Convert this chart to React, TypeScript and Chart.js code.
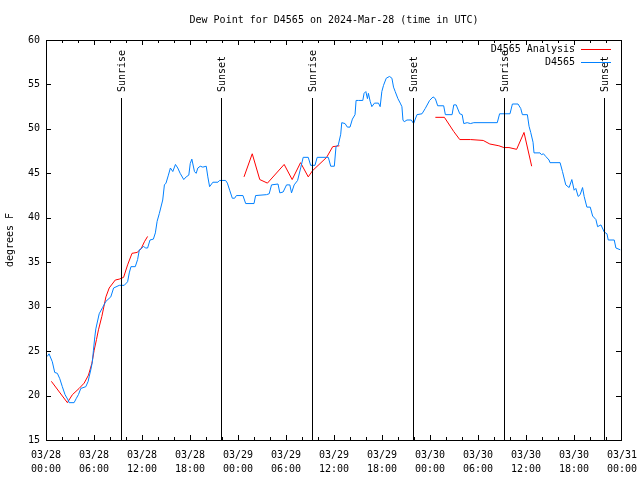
import React, { useEffect, useRef } from "react";
import { Chart, registerables } from "chart.js";

Chart.register(...registerables);

const TITLE = "Dew Point for D4565 on 2024-Mar-28 (time in UTC)";
const Y_TITLE = "degrees F";
const FONT = "'DejaVu Sans Mono', 'Liberation Mono', monospace";

// x in hours since 03/28 00:00 UTC
const xTickHours = [0, 6, 12, 18, 24, 30, 36, 42, 48, 54, 60, 66, 72];
const xTickDates = ["03/28", "03/28", "03/28", "03/28", "03/29", "03/29", "03/29", "03/29", "03/30", "03/30", "03/30", "03/30", "03/31"];
const xTickTimes = ["00:00", "06:00", "12:00", "18:00", "00:00", "06:00", "12:00", "18:00", "00:00", "06:00", "12:00", "18:00", "00:00"];
const xMinorHours = [2, 4, 8, 10, 14, 16, 20, 22, 26, 28, 32, 34, 38, 40, 44, 46, 50, 52, 56, 58, 62, 64, 68, 70];
const yTicks = [15, 20, 25, 30, 35, 40, 45, 50, 55, 60];

const sunLabels = ["Sunrise", "Sunset", "Sunrise", "Sunset", "Sunrise", "Sunset"];
const sunHours = [9.375, 21.875, 33.25, 45.875, 57.25, 69.75];

const seriesLabels = ["D4565 Analysis", "D4565"];

const analysisHours = [
  0.67, 2.67, 3.3, 4.14, 4.77, 5.31, 5.73, 6.02, 6.31, 6.56, 6.98, 7.49, 7.9, 8.66, 9.16, 9.7, 10.2, 10.75, 11.38, 11.88, 12.3, 12.7,
  18.0,
  24.75, 25.78, 26.72, 27.68, 29.77, 30.77, 31.82, 32.78, 33.32, 35.08, 35.84, 36.67,
  42.0,
  48.67, 49.8, 50.97, 51.72, 53.06, 54.65, 55.48, 56.61, 57.24, 57.87, 58.83, 59.75, 60.71,
];
const analysisValues: (number | null)[] = [
  21.6, 19.2, 20.1, 20.8, 21.4, 22.3, 23.6, 25.1, 26.3, 27.4, 28.9, 31.1, 32.1, 33.0, 33.1, 33.3, 34.7, 36.0, 36.1, 36.5, 37.3, 37.9,
  null,
  44.6, 47.2, 44.3, 43.9, 46.0, 44.3, 46.2, 44.6, 45.3, 46.8, 48.0, 48.1,
  null,
  51.3, 51.3, 49.7, 48.8, 48.8, 48.7, 48.3, 48.1, 47.9, 47.9, 47.7, 49.6, 45.8,
];

const obsHours = [
  0.16, 0.38, 0.79, 1.09, 1.42, 1.72, 2.04, 2.38, 2.76, 2.89, 3.51, 3.8, 4.05, 4.35, 4.98, 5.27, 5.39, 5.6, 5.8, 5.93,
  6.1, 6.23, 6.65, 7.07, 7.49, 8.1, 8.45, 9.16, 9.78, 10.2, 10.41, 10.62, 11.16, 11.45, 11.67, 11.88, 12.2, 12.42, 12.7, 13.0,
  13.42, 13.67, 13.89, 14.17, 14.59, 14.8, 15.0, 15.3, 15.55, 15.85, 16.18, 16.47, 16.77, 17.22, 17.52, 17.85, 18.03, 18.23, 18.56, 18.77,
  18.98, 19.28, 19.6, 20.03, 20.23, 20.45, 20.86, 21.49, 21.7, 22.45, 22.67, 22.96, 23.29, 23.58, 23.8, 24.62, 24.96, 26.0, 26.2, 27.56,
  27.9, 28.19, 29.0, 29.23, 29.64, 30.07, 30.48, 30.69, 31.02, 31.45, 31.86, 32.15, 32.78, 33.08, 33.62, 33.9, 35.29, 35.59, 36.04, 36.25,
  36.54, 36.84, 36.97, 37.38, 37.67, 38.0, 38.3, 38.63, 38.76, 39.05, 39.6, 39.76, 39.98, 40.18, 40.3, 40.52, 40.73, 41.06, 41.56, 41.77,
  41.98, 42.19, 42.53, 42.94, 43.24, 43.44, 43.65, 43.99, 44.28, 44.49, 44.62, 44.78, 45.12, 45.66, 45.95, 46.37, 47.0, 47.41, 47.95, 48.38,
  48.67, 48.96, 49.71, 49.92, 50.76, 50.97, 51.27, 51.72, 52.02, 52.22, 52.65, 53.06, 53.48, 56.41, 56.7, 58.0, 58.3, 59.0, 59.34, 59.55,
  60.17, 60.38, 60.59, 60.88, 61.0, 61.75, 61.93, 62.18, 62.47, 62.88, 63.0, 64.26, 64.56, 64.97, 65.39, 65.73, 66.02, 66.23, 66.52, 66.77,
  67.07, 67.27, 67.61, 68.03, 68.33, 68.74, 68.95, 69.37, 69.78, 70.12, 70.28, 71.03, 71.24, 71.78,
];
const obsValues = [
  24.4, 24.7, 23.8, 22.6, 22.5, 21.9, 21.0, 20.1, 19.5, 19.2, 19.2, 19.7, 20.1, 20.8, 21.0, 21.6, 22.1, 22.9, 23.8, 25.1,
  26.6, 27.5, 29.2, 29.9, 30.6, 31.1, 32.1, 32.4, 32.4, 32.8, 33.8, 34.5, 34.5, 35.3, 36.4, 36.5, 36.8, 36.6, 36.6, 37.5,
  37.6, 38.3, 39.6, 40.5, 42.0, 43.7, 43.9, 44.8, 45.6, 45.2, 46.0, 45.6, 45.0, 44.3, 44.6, 44.8, 46.1, 46.6, 45.2, 45.0,
  45.6, 45.8, 45.7, 45.8, 44.6, 43.5, 44.0, 44.0, 44.2, 44.2, 43.9, 43.1, 42.2, 42.2, 42.5, 42.5, 41.6, 41.6, 42.5, 42.6,
  42.7, 43.7, 43.8, 42.8, 42.9, 43.7, 43.7, 42.8, 43.7, 44.2, 45.7, 46.8, 46.8, 45.9, 45.9, 46.8, 46.8, 45.8, 45.8, 48.0,
  48.2, 49.4, 50.7, 50.6, 50.2, 50.2, 51.1, 51.6, 53.2, 53.2, 53.2, 54.0, 54.2, 53.4, 54.0, 53.1, 52.5, 52.9, 52.9, 52.5,
  54.2, 54.9, 55.7, 55.9, 55.7, 54.7, 54.2, 53.4, 52.9, 52.5, 51.0, 50.8, 51.0, 51.0, 50.6, 51.6, 51.7, 52.3, 53.2, 53.6,
  53.4, 52.6, 52.6, 51.6, 51.6, 52.7, 52.7, 51.7, 51.6, 50.6, 50.7, 50.6, 50.7, 50.7, 51.7, 51.7, 52.8, 52.8, 52.3, 51.6,
  51.6, 50.3, 49.6, 48.5, 47.3, 47.3, 47.1, 47.2, 46.9, 46.5, 46.2, 46.2, 45.2, 43.7, 43.4, 44.3, 43.1, 43.3, 42.4, 42.6,
  43.4, 42.4, 41.2, 41.2, 40.2, 39.8, 39.0, 39.2, 38.4, 38.2, 37.5, 37.5, 36.6, 36.4,
];

const RED = "#ff0000";
const BLUE = "rgb(0,128,255)";

const framePlugin = {
  id: "gnuframe",
  afterDatasetsDraw(chart: any) {
    const { ctx, chartArea: a, scales } = chart;
    const xs = scales.x;
    const ys = scales.y;
    ctx.save();
    ctx.strokeStyle = "#000";
    ctx.lineWidth = 1;
    ctx.font = `10px ${FONT}`;
    ctx.fillStyle = "#000";
    // sunrise / sunset markers
    sunHours.forEach((h, i) => {
      const x = Math.round(xs.getPixelForValue(h)) + 0.5;
      ctx.beginPath();
      ctx.moveTo(x, a.top + 58);
      ctx.lineTo(x, a.bottom);
      ctx.stroke();
      ctx.save();
      ctx.translate(x + 0.5, a.top + 52);
      ctx.rotate(-Math.PI / 2);
      ctx.textAlign = "left";
      ctx.textBaseline = "middle";
      ctx.fillText(sunLabels[i], 0, 0);
      ctx.restore();
    });
    // border
    ctx.strokeRect(a.left + 0.5, a.top + 0.5, a.right - a.left - 1, a.bottom - a.top);
    // ticks
    ctx.beginPath();
    xTickHours.forEach((h) => {
      const x = Math.min(Math.round(xs.getPixelForValue(h)), a.right - 1) + 0.5;
      ctx.moveTo(x, a.bottom);
      ctx.lineTo(x, a.bottom - 5);
      ctx.moveTo(x, a.top);
      ctx.lineTo(x, a.top + 5);
    });
    xMinorHours.forEach((h) => {
      const x = Math.round(xs.getPixelForValue(h)) + 0.5;
      ctx.moveTo(x, a.bottom);
      ctx.lineTo(x, a.bottom - 3);
      ctx.moveTo(x, a.top);
      ctx.lineTo(x, a.top + 3);
    });
    yTicks.forEach((v) => {
      const y = Math.round(ys.getPixelForValue(v)) + 0.5;
      ctx.moveTo(a.left, y);
      ctx.lineTo(a.left + 5, y);
      ctx.moveTo(a.right - 1, y);
      ctx.lineTo(a.right - 6, y);
    });
    ctx.stroke();
    // key
    const colors = [RED, BLUE];
    seriesLabels.forEach((lab, i) => {
      const y = a.top + 9.5 + i * 13;
      ctx.textAlign = "right";
      ctx.textBaseline = "middle";
      ctx.fillStyle = "#000";
      ctx.fillText(lab, a.right - 47, y);
      ctx.strokeStyle = colors[i];
      ctx.beginPath();
      ctx.moveTo(a.right - 41, y);
      ctx.lineTo(a.right - 11, y);
      ctx.stroke();
    });
    ctx.restore();
  },
};

export default function App() {
  const ref = useRef<HTMLCanvasElement>(null);
  useEffect(() => {
    if (!ref.current) return;
    const redData = analysisHours.map((h, i) => ({ x: h, y: analysisValues[i] }));
    const blueData = obsHours.map((h, i) => ({ x: h, y: obsValues[i] }));
    const font = { family: FONT, size: 10, weight: "normal" as const, lineHeight: 1.2 };
    const chart = new Chart(ref.current, {
      type: "line",
      data: {
        datasets: [
          { label: seriesLabels[0], data: redData as any, borderColor: RED, borderWidth: 1, pointRadius: 0, spanGaps: false, tension: 0, order: 2, fill: false },
          { label: seriesLabels[1], data: blueData as any, borderColor: BLUE, borderWidth: 1, pointRadius: 0, tension: 0, order: 1, fill: false },
        ],
      },
      options: {
        animation: false,
        responsive: false,
        devicePixelRatio: 1,
        parsing: false as any,
        layout: { padding: { left: 0, right: 18, top: 0, bottom: 0 } },
        events: [],
        plugins: {
          legend: { display: false },
          tooltip: { enabled: false },
          title: {
            display: true,
            text: TITLE,
            color: "#000",
            fullSize: false,
            font,
            padding: { top: 14, bottom: 14 },
          },
        },
        scales: {
          x: {
            type: "linear",
            min: 0,
            max: 72,
            afterBuildTicks: (s: any) => {
              s.ticks = xTickHours.map((v) => ({ value: v }));
            },
            afterFit: (s: any) => {
              s.height = 40;
              s.paddingLeft = 0;
              s.paddingRight = 0;
            },
            grid: { display: false, drawTicks: false },
            border: { display: false },
            ticks: {
              autoSkip: false,
              maxRotation: 0,
              minRotation: 0,
              padding: 8,
              color: "#000",
              font: { ...font, lineHeight: 1.4 },
              callback: (v: any) => {
                const i = xTickHours.indexOf(Number(v));
                return i >= 0 ? [xTickDates[i], xTickTimes[i]] : "";
              },
            },
          },
          y: {
            type: "linear",
            min: 15,
            max: 60,
            afterBuildTicks: (s: any) => {
              s.ticks = yTicks.map((v) => ({ value: v }));
            },
            afterFit: (s: any) => {
              s.width = 46;
              s.paddingTop = 0;
              s.paddingBottom = 0;
            },
            grid: { display: false, drawTicks: false },
            border: { display: false },
            title: { display: true, text: Y_TITLE, color: "#000", font, padding: { top: 4, bottom: 0 } },
            ticks: {
              padding: 6,
              color: "#000",
              font,
              callback: (v: any) => String(v),
            },
          },
        },
      },
      plugins: [framePlugin],
    });
    return () => chart.destroy();
  }, []);
  return (
    <div style={{ position: "fixed", left: 0, top: 0, width: 640, height: 480, background: "#fff" }}>
      <canvas ref={ref} width={640} height={480} style={{ display: "block", width: 640, height: 480 }} />
    </div>
  );
}
